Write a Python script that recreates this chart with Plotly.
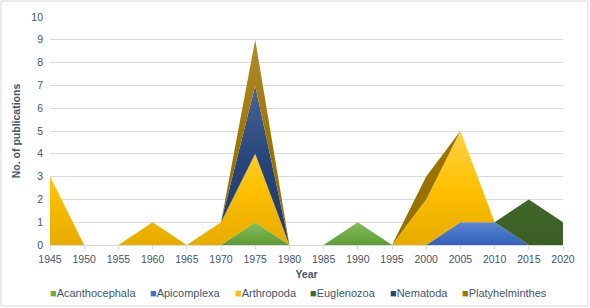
import plotly.graph_objects as go

years = [1945, 1950, 1955, 1960, 1965, 1970, 1975, 1980, 1985, 1990, 1995, 2000, 2005, 2010, 2015, 2020]
acanthocephala = [0, 0, 0, 0, 0, 0, 1, 0, 0, 1, 0, 0, 0, 0, 0, 0]
apicomplexa =    [0, 0, 0, 0, 0, 0, 0, 0, 0, 0, 0, 0, 1, 1, 0, 0]
arthropoda =     [3, 0, 0, 1, 0, 1, 3, 0, 0, 0, 0, 2, 4, 0, 0, 0]
euglenozoa =     [0, 0, 0, 0, 0, 0, 0, 0, 0, 0, 0, 0, 0, 0, 2, 1]
nematoda =       [0, 0, 0, 0, 0, 0, 3, 0, 0, 0, 0, 0, 0, 0, 0, 0]
platyhelminthes = [0, 0, 0, 0, 0, 0, 2, 0, 0, 0, 0, 1, 0, 0, 0, 0]

series = [
    ("Acanthocephala", acanthocephala, "#70AD47", ["#5E9A37", "#70AD47", "#86BD60"]),
    ("Apicomplexa", apicomplexa, "#4472C4", ["#3562B8", "#4472C4", "#5F86CF"]),
    ("Arthropoda", arthropoda, "#FFC000", ["#E6AC00", "#FFC000", "#FFD24A"]),
    ("Euglenozoa", euglenozoa, "#43682B", ["#3A5E24", "#43682B", "#46692D"]),
    ("Nematoda", nematoda, "#264478", ["#1F3D75", "#264478", "#4A6596"]),
    ("Platyhelminthes", platyhelminthes, "#9E7400", ["#967000", "#9E7400", "#B08A30"]),
]

fig = go.Figure()
for name, vals, col, grad in series:
    fig.add_trace(go.Scatter(
        x=years, y=vals, name=name, mode="lines", stackgroup="one",
        line=dict(width=0, color=col),
        fillcolor=col,
        fillgradient=dict(type="vertical",
                          colorscale=[[0, grad[0]], [0.5, grad[1]], [1, grad[2]]]),
        hoverinfo="x+y+name",
        showlegend=False,
    ))

font_col = "#44546A"
title_col = "#44546A"
L, R, T, B = 50, 27, 17, 63
W, H = 590, 308
pw, ph = W - L - R, H - T - B

def px_x(px):
    return (px - L) / pw

def px_y(py):
    return (H - B - py) / ph

fig.update_layout(
    width=W, height=H,
    margin=dict(l=L, r=R, t=T, b=B),
    paper_bgcolor="white", plot_bgcolor="white",
    font=dict(family="Liberation Sans, Arial, sans-serif", size=10.5, color=font_col),
    showlegend=False,
    xaxis=dict(range=[1945, 2020], tickmode="array", tickvals=years,
               ticktext=[str(y) for y in years],
               showgrid=False, showline=True, linecolor="#D9D9D9", linewidth=1,
               ticks="outside", ticklen=4, tickcolor="#D9D9D9",
               tickfont=dict(size=10.5, color=font_col),
               title=dict(text="<b>Year</b>", font=dict(size=10.5, color=title_col), standoff=7),
               zeroline=False, fixedrange=True, automargin=False),
    yaxis=dict(range=[0, 10], dtick=1, showgrid=True, gridcolor="#D9D9D9", gridwidth=1,
               showline=False, zeroline=False, ticks="",
               tickfont=dict(size=10.5, color=font_col), ticklabelstandoff=6,
               title=dict(text="<b>No. of publications</b>", font=dict(size=10.5, color=title_col), standoff=8),
               fixedrange=True, automargin=False),
)

# custom legend (single row, Excel style)
legend_x = [48, 148, 233, 308, 388, 460]
for (name, vals, col, grad), lx in zip(series, legend_x):
    fig.add_annotation(
        xref="paper", yref="paper", x=px_x(lx), y=px_y(293),
        xanchor="left", yanchor="middle", showarrow=False,
        text=f'<span style="color:{col}">■</span>{name}',
        font=dict(size=11, color=font_col),
    )

# outer chart border
fig.add_shape(type="rect", xref="paper", yref="paper",
              x0=px_x(1), x1=px_x(588), y0=px_y(306), y1=px_y(1),
              line=dict(color="#D9D9D9", width=1), fillcolor="rgba(0,0,0,0)", layer="below")

fig.write_html("out.html", config={"displayModeBar": False},
               post_script="document.body.style.margin='0';")
